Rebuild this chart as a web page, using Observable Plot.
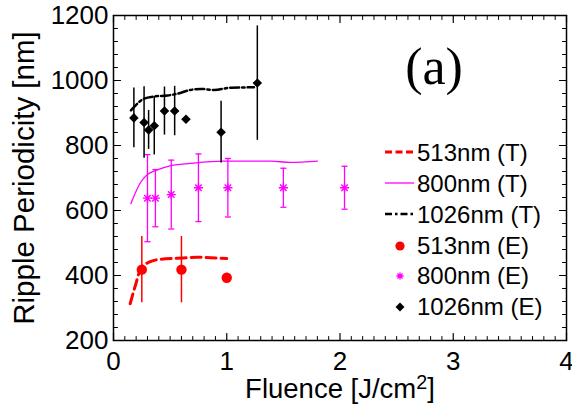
<!DOCTYPE html>
<html>
<head>
<meta charset="utf-8">
<script src="https://cdn.jsdelivr.net/npm/d3@7"></script>
<script src="https://cdn.jsdelivr.net/npm/@observablehq/plot@0.6"></script>
<style>
  html, body { margin: 0; padding: 0; background: #fff; }
  #wrap { position: relative; width: 572px; height: 415px; font-family: "Liberation Sans", Arial, sans-serif; }
  #legend { position: absolute; left: 383px; top: 138px; }
  .row { display: flex; align-items: center; height: 30.75px; font-size: 24px; white-space: nowrap; color: #000; }
  .row svg { width: 34px; height: 30px; flex: none; }
</style>
</head>
<body>
<div id="wrap"></div>
<script>
// ---------- data ----------
// Theory curves
const fluence513T = [0.147, 0.197, 0.24, 0.314, 0.417, 0.565, 0.74, 1.00];
const period513T  = [313, 374, 421, 441, 450, 453, 456, 452];
const fluence800T = [0.153, 0.24, 0.30, 0.386, 0.506, 0.68, 0.97, 1.39, 1.56, 1.80];
const period800T  = [621, 687, 711, 725, 738, 745, 752, 752, 748, 752];
const fluence1026T = [0.154, 0.27, 0.36, 0.48, 0.56, 0.68, 0.77, 0.89, 1.04, 1.24];
const period1026T  = [908, 944, 951, 954, 959, 971, 974, 971, 978, 979];
// Experiments
const fluence513E = [0.25, 0.60, 1.00];
const period513E  = [418, 418, 393];
const error513E   = [102, 102, 14];
const fluence800E = [0.30, 0.37, 0.51, 0.75, 1.01, 1.50, 2.04];
const period800E  = [638, 638, 649, 670, 670, 670, 670];
const error800E   = [134, 88, 106, 104, 90, 60, 66];
const fluence1026E = [0.18, 0.27, 0.31, 0.36, 0.45, 0.54, 0.64, 0.95, 1.27];
const period1026E  = [885, 871, 848, 861, 906, 906, 881, 841, 992];
const error1026E   = [92, 110, 60, 90, 74, 76, null, 95, 176];
// Ticks
const xMajorTicks = [0, 1, 2, 3, 4];
const xMinorTicks = [0.1,0.2,0.3,0.4,0.5,0.6,0.7,0.8,0.9,1.1,1.2,1.3,1.4,1.5,1.6,1.7,1.8,1.9,2.1,2.2,2.3,2.4,2.5,2.6,2.7,2.8,2.9,3.1,3.2,3.3,3.4,3.5,3.6,3.7,3.8,3.9];
const yMajorTicks = [200, 400, 600, 800, 1000, 1200];
const yMinorTicks = [240,280,320,360,440,480,520,560,640,680,720,760,840,880,920,960,1040,1080,1120,1160];
// Labels
const xTitleMain = "Fluence [J/cm";
const xTitleSup = "2";
const xTitleEnd = "]";
const xTitle = xTitleMain + xTitleSup + xTitleEnd;
const yTitle = "Ripple Periodicity [nm]";
const panelLabel = "(a)";
const legendItems = [
  {label: "513nm (T)", kind: "line", color: "#ff0000", width: 3, dash: "7,3.5"},
  {label: "800nm (T)", kind: "line", color: "#ff00ff", width: 1.3, dash: null},
  {label: "1026nm (T)", kind: "line", color: "#000000", width: 2.5, dash: "7,3,2.5,3"},
  {label: "513nm (E)", kind: "dot", color: "#ff0000"},
  {label: "800nm (E)", kind: "star", color: "#ff00ff"},
  {label: "1026nm (E)", kind: "diamond", color: "#000000"}
];

// ---------- tables ----------
const zipLine = (xs, ys) => xs.map((x, i) => ({x, y: ys[i]}));
const zipPts = (xs, ys, es) => xs.map((x, i) => ({x, y: ys[i], e: es[i]}));
const t513 = zipLine(fluence513T, period513T);
const t800 = zipLine(fluence800T, period800T);
const t1026 = zipLine(fluence1026T, period1026T);
const e513 = zipPts(fluence513E, period513E, error513E);
const e800 = zipPts(fluence800E, period800E, error800E);
const e1026 = zipPts(fluence1026E, period1026E, error1026E);
const withErr = (arr) => arr.filter(d => d.e != null);

// custom symbols
const asterisk8 = {draw(ctx, size) {
  const r = Math.sqrt(size / Math.PI);
  for (const a of [0, 45, 90, 135]) {
    const t = a * Math.PI / 180, c = r * Math.cos(t), s = r * Math.sin(t);
    ctx.moveTo(-c, -s); ctx.lineTo(c, s);
  }
}};
const capLine = {draw(ctx, size) {
  const r = Math.sqrt(size / Math.PI);
  ctx.moveTo(-r, 0); ctx.lineTo(r, 0);
}};
const tickShape = {draw(ctx, l) { ctx.moveTo(0, 0); ctx.lineTo(0, -l); }};

const tickMarks = [];
for (const [side, rot] of [["bottom", 0], ["top", 180]]) {
  tickMarks.push(Plot.vector(xMajorTicks, {x: d => d, frameAnchor: side, length: 7, rotate: rot, anchor: "start", shape: tickShape, stroke: "black", strokeWidth: 1.2}));
  tickMarks.push(Plot.vector(xMinorTicks, {x: d => d, frameAnchor: side, length: 4, rotate: rot, anchor: "start", shape: tickShape, stroke: "black", strokeWidth: 1}));
}
for (const [side, rot] of [["left", 90], ["right", -90]]) {
  tickMarks.push(Plot.vector(yMajorTicks, {y: d => d, frameAnchor: side, length: 7, rotate: rot, anchor: "start", shape: tickShape, stroke: "black", strokeWidth: 1.2}));
  tickMarks.push(Plot.vector(yMinorTicks, {y: d => d, frameAnchor: side, length: 4, rotate: rot, anchor: "start", shape: tickShape, stroke: "black", strokeWidth: 1}));
}

const chart = Plot.plot({
  width: 572,
  height: 415,
  marginLeft: 113,
  marginRight: 6,
  marginTop: 15,
  marginBottom: 75,
  style: {fontFamily: "'Liberation Sans', Arial, sans-serif", background: "white", color: "black"},
  x: {domain: [0, 4]},
  y: {domain: [200, 1200]},
  marks: [
    // theory curves
    Plot.line(t513, {x: "x", y: "y", stroke: "#ff0000", strokeWidth: 3, strokeDasharray: "10,5", curve: "monotone-x"}),
    Plot.line(t800, {x: "x", y: "y", stroke: "#ff00ff", strokeWidth: 1.3, curve: "monotone-x"}),
    Plot.line(t1026, {x: "x", y: "y", stroke: "#000000", strokeWidth: 2.5, strokeDasharray: "9,3,2.5,3", curve: "monotone-x"}),
    // error bars
    Plot.ruleX(withErr(e513), {x: "x", y1: d => d.y - d.e, y2: d => d.y + d.e, stroke: "#ff0000", strokeWidth: 1.5}),
    Plot.ruleX(withErr(e800), {x: "x", y1: d => d.y - d.e, y2: d => d.y + d.e, stroke: "#ff00ff", strokeWidth: 1.3}),
    Plot.dot(withErr(e800), {x: "x", y: d => d.y - d.e, symbol: capLine, r: 3, fill: "none", stroke: "#ff00ff", strokeWidth: 1.3}),
    Plot.dot(withErr(e800), {x: "x", y: d => d.y + d.e, symbol: capLine, r: 3, fill: "none", stroke: "#ff00ff", strokeWidth: 1.3}),
    Plot.ruleX(withErr(e1026), {x: "x", y1: d => d.y - d.e, y2: d => d.y + d.e, stroke: "#000000", strokeWidth: 1.5}),
    // experimental points
    Plot.dot(e513, {x: "x", y: "y", r: 5.2, fill: "#ff0000", stroke: "none"}),
    Plot.dot(e800, {x: "x", y: "y", symbol: asterisk8, r: 4.6, fill: "none", stroke: "#ff00ff", strokeWidth: 1.4}),
    Plot.dot(e1026, {x: "x", y: "y", symbol: "diamond2", r: 4.3, fill: "#000000", stroke: "none"}),
    // frame and ticks
    Plot.frame({stroke: "black", strokeWidth: 1.5}),
    ...tickMarks,
    Plot.axisX({ticks: xMajorTicks, tickSize: 0, tickPadding: 11, fontSize: 26, label: null, tickFormat: d => String(d)}),
    Plot.axisY({ticks: yMajorTicks, tickSize: 0, tickPadding: 5, fontSize: 26, label: null, tickFormat: d => String(d)}),
    // titles
    Plot.text([xTitle], {text: d => d, frameAnchor: "bottom", textAnchor: "middle", lineAnchor: "bottom", dy: 57, fontSize: 27.5, fill: "black"}),
    Plot.text([yTitle], {text: d => d, frameAnchor: "left", textAnchor: "middle", lineAnchor: "bottom", rotate: -90, dx: -80, fontSize: 29.5, fill: "black"}),
    Plot.text([panelLabel], {text: d => d, frameAnchor: "top", textAnchor: "middle", lineAnchor: "bottom", dx: 94, dy: 68, fontSize: 52, fontFamily: "'Liberation Serif', 'Times New Roman', serif", fill: "black"})
  ]
});

// turn the "2" of the x title into a superscript
for (const t of chart.querySelectorAll("text")) {
  if (t.textContent === xTitle) {
    t.textContent = "";
    const ns0 = "http://www.w3.org/2000/svg";
    const a = document.createElementNS(ns0, "tspan"); a.textContent = xTitleMain;
    const b = document.createElementNS(ns0, "tspan"); b.textContent = xTitleSup;
    b.setAttribute("dy", "-0.45em"); b.setAttribute("font-size", "0.72em");
    const c = document.createElementNS(ns0, "tspan"); c.textContent = xTitleEnd;
    c.setAttribute("dy", "0.32em");
    t.append(a, b, c);
  }
}

const wrap = document.getElementById("wrap");
wrap.appendChild(chart);

// legend overlay
const legend = document.createElement("div");
legend.id = "legend";
const ns = "http://www.w3.org/2000/svg";
for (const item of legendItems) {
  const row = document.createElement("div");
  row.className = "row";
  const svg = document.createElementNS(ns, "svg");
  svg.setAttribute("viewBox", "0 0 34 30");
  if (item.kind === "line") {
    const l = document.createElementNS(ns, "line");
    l.setAttribute("x1", 2); l.setAttribute("x2", 31); l.setAttribute("y1", 14); l.setAttribute("y2", 14);
    l.setAttribute("stroke", item.color); l.setAttribute("stroke-width", item.width);
    if (item.dash) l.setAttribute("stroke-dasharray", item.dash);
    svg.appendChild(l);
  } else {
    const p = document.createElementNS(ns, "path");
    const path = d3.path();
    if (item.kind === "dot") { path.arc(17, 15, 4.6, 0, 2 * Math.PI); p.setAttribute("fill", item.color); }
    else if (item.kind === "diamond") { path.moveTo(17, 10.5); path.lineTo(21.5, 15); path.lineTo(17, 19.5); path.lineTo(12.5, 15); path.closePath(); p.setAttribute("fill", item.color); }
    else {
      const r = 3.6;
      for (const a of [0, 45, 90, 135]) { const t = a * Math.PI / 180; path.moveTo(17 - r * Math.cos(t), 15 - r * Math.sin(t)); path.lineTo(17 + r * Math.cos(t), 15 + r * Math.sin(t)); }
      p.setAttribute("fill", "none"); p.setAttribute("stroke", item.color); p.setAttribute("stroke-width", 1.3);
    }
    p.setAttribute("d", path.toString());
    svg.appendChild(p);
  }
  row.appendChild(svg);
  const span = document.createElement("span");
  span.textContent = item.label;
  row.appendChild(span);
  legend.appendChild(row);
}
wrap.appendChild(legend);
</script>
</body>
</html>
